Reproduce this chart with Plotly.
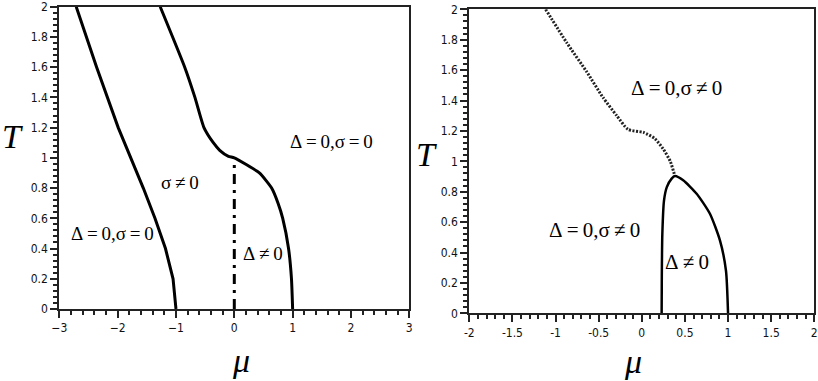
import plotly.graph_objects as go

# ---------------- data ----------------
# Left panel
left_b1_mu = [-2.71, -2.36, -1.99, -1.56, -1.36, -1.18, -1.05, -1.0]
left_b1_T = [2.0, 1.6, 1.2, 0.8, 0.6, 0.4, 0.2, 0.0]

left_b2_mu = [-1.27, -0.85, -0.675, -0.52, -0.36, -0.25, -0.10, 0.0, 0.43, 0.64, 0.75, 0.83, 0.93, 0.98, 1.0]
left_b2_T = [2.0, 1.6, 1.4, 1.2, 1.1, 1.05, 1.01, 1.0, 0.9, 0.8, 0.7, 0.6, 0.4, 0.2, 0.0]

left_dd_mu = [0.0, 0.0]
left_dd_T = [0.0, 1.0]

# Right panel
right_dot_mu = [-1.115, -0.87, -0.64, -0.45, -0.29, -0.16, 0.02, 0.15, 0.25, 0.33, 0.385]
right_dot_T = [2.0, 1.78, 1.59, 1.42, 1.30, 1.21, 1.19, 1.15, 1.08, 1.0, 0.90]

right_dome_mu = [0.23, 0.232, 0.238, 0.257, 0.29, 0.346, 0.385, 0.48, 0.636, 0.79, 0.906, 0.976, 1.0]
right_dome_T = [0.0, 0.25, 0.52, 0.74, 0.83, 0.886, 0.903, 0.875, 0.787, 0.655, 0.48, 0.28, 0.0]

# Ticks
left_xticks = [-3, -2, -1, 0, 1, 2, 3]
right_xticks = [-2, -1.5, -1, -0.5, 0, 0.5, 1, 1.5, 2]
yticks = [0, 0.2, 0.4, 0.6, 0.8, 1, 1.2, 1.4, 1.6, 1.8, 2]
right_xticklabels = ["-2", "-1.5", "-1", "-0.5", "0", "0.5", "1", "1.5", "2"]
yticklabels = ["0", "0.2", "0.4", "0.6", "0.8", "1", "1.2", "1.4", "1.6", "1.8", "2"]

# Region labels: (text, mu, T)
ts = "\u2009"
left_labels = [
    (f"Δ{ts}={ts}0,σ{ts}={ts}0", 1.67, 1.11),
    (f"σ{ts}≠{ts}0", -0.93, 0.84),
    (f"Δ{ts}={ts}0,σ{ts}={ts}0", -2.08, 0.50),
    (f"Δ{ts}≠{ts}0", 0.49, 0.37),
]
right_labels = [
    (f"Δ{ts}={ts}0,σ{ts}≠{ts}0", 0.405, 1.48),
    (f"Δ{ts}={ts}0,σ{ts}≠{ts}0", -0.543, 0.55),
    (f"Δ{ts}≠{ts}0", 0.524, 0.34),
]

W, H = 818, 381
fig = go.Figure()

line_col = "black"
fig.add_trace(go.Scatter(x=left_b1_mu, y=left_b1_T, mode="lines",
                         line=dict(color=line_col, width=3), xaxis="x", yaxis="y"))
fig.add_trace(go.Scatter(x=left_b2_mu, y=left_b2_T, mode="lines",
                         line=dict(color=line_col, width=3, shape="spline", smoothing=0.5),
                         xaxis="x", yaxis="y"))
fig.add_trace(go.Scatter(x=left_dd_mu, y=left_dd_T, mode="lines",
                         line=dict(color=line_col, width=3, dash="10px,6px,3px,6px"),
                         xaxis="x", yaxis="y"))
fig.add_trace(go.Scatter(x=right_dot_mu, y=right_dot_T, mode="lines",
                         line=dict(color="#222", width=3, dash="2px,1.5px", shape="spline", smoothing=0.6),
                         xaxis="x2", yaxis="y2"))
fig.add_trace(go.Scatter(x=right_dome_mu, y=right_dome_T, mode="lines",
                         line=dict(color=line_col, width=2.5, shape="spline", smoothing=0.6),
                         xaxis="x2", yaxis="y2"))

tick_font = dict(family="Liberation Sans Narrow, DejaVu Sans Condensed, Liberation Sans, sans-serif",
                 size=12, color="#111")
common = dict(showline=True, mirror=True, linecolor="#222", linewidth=2,
              ticks="outside", ticklen=7, tickwidth=1.5, tickcolor="#222",
              showgrid=False, zeroline=False, tickfont=tick_font, automargin=False,
              ticklabeloverflow="allow")

px = lambda v: v / W
py = lambda v: 1 - v / H

fig.update_layout(
    width=W, height=H,
    margin=dict(l=0, r=0, t=0, b=0, pad=0),
    paper_bgcolor="white", plot_bgcolor="white",
    showlegend=False,
    xaxis=dict(domain=[px(59.3), px(409.3)], range=[-3, 3], tickvals=left_xticks,
               minor=dict(dtick=0.2, ticks="outside", ticklen=4, tickcolor="#222"),
               anchor="y", **common),
    yaxis=dict(domain=[py(309), py(6.7)], range=[0, 2], tickvals=yticks, ticktext=yticklabels,
               minor=dict(dtick=0.04, ticks="outside", ticklen=4, tickcolor="#222"),
               anchor="x", **common),
    xaxis2=dict(domain=[px(469.3), px(814.3)], range=[-2, 2], tickvals=right_xticks,
                ticktext=right_xticklabels,
                minor=dict(dtick=0.1, ticks="outside", ticklen=4, tickcolor="#222"),
                anchor="y2", **common),
    yaxis2=dict(domain=[py(313.3), py(9.3)], range=[0, 2], tickvals=yticks, ticktext=yticklabels,
                minor=dict(dtick=0.04, ticks="outside", ticklen=4, tickcolor="#222"),
                anchor="x2", **common),
)

label_font = dict(family="Liberation Serif, Times New Roman, serif", size=19, color="black")
for txt, mx, ty in left_labels:
    fig.add_annotation(text=txt, x=mx, y=ty, xref="x", yref="y", showarrow=False, font=label_font)
for txt, mx, ty in right_labels:
    fig.add_annotation(text=txt, x=mx, y=ty, xref="x2", yref="y2", showarrow=False,
                       font=dict(label_font, size=21))

title_font = dict(family="Liberation Serif, Times New Roman, serif", size=34, color="black")
axis_titles = [("<i>T</i>", px(12), py(136)), ("<i>μ</i>", px(241), py(360)),
               ("<i>T</i>", px(426), py(154)), ("<i>μ</i>", px(633), py(361))]
for txt, ax, ay in axis_titles:
    fig.add_annotation(text=txt, x=ax, y=ay, xref="paper", yref="paper", showarrow=False,
                       font=title_font, xanchor="center", yanchor="middle")

fig.write_html("out.html", config={"displayModeBar": False},
               post_script="document.body.style.margin='0';document.body.style.overflow='hidden';")
